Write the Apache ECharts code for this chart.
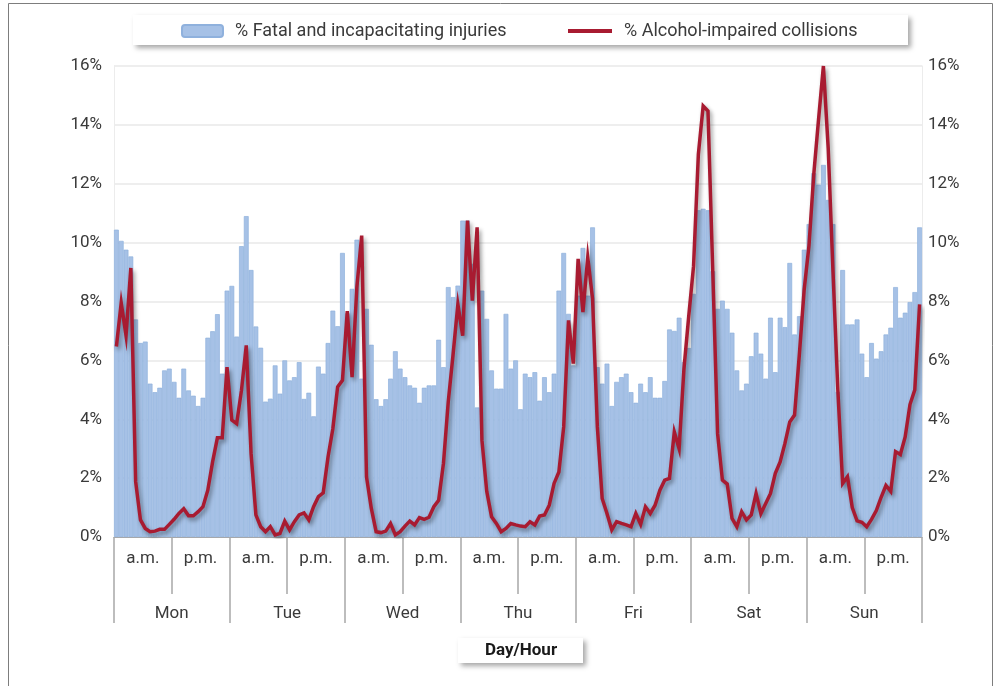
<!DOCTYPE html>
<html>
<head>
<meta charset="utf-8">
<script src="https://cdn.jsdelivr.net/npm/echarts@6/dist/echarts.min.js"></script>
<style>
html,body{margin:0;padding:0;background:#fff;}
#chart{width:1001px;height:686px;}
</style>
</head>
<body>
<div id="chart"></div>
<script>
const days = ['Mon','Tue','Wed','Thu','Fri','Sat','Sun'];
const halves = ['a.m.','p.m.'];
const yTicks = [0,2,4,6,8,10,12,14,16];

const injMon = [10.44,10.06,9.76,9.53,7.39,6.59,6.64,5.21,4.92,5.07,5.66,5.72,5.27,4.73,5.72,4.98,4.80,4.45,4.73,6.77,6.99,7.57,5.55,8.37];
const injTue = [8.53,6.81,9.88,10.90,9.07,7.15,6.43,4.60,4.70,5.83,4.87,6.00,5.32,5.43,5.94,4.69,4.90,4.10,5.79,5.55,6.59,7.69,7.16,9.65];
const injWed = [7.60,8.43,10.10,5.38,7.75,6.53,4.68,4.45,4.68,5.38,6.31,5.72,5.43,5.15,5.07,4.56,5.07,5.15,5.15,6.70,5.77,8.49,8.15,8.54];
const injThu = [10.75,10.75,9.28,4.40,8.37,7.41,5.66,5.04,5.04,7.58,5.72,6.00,4.34,5.55,5.43,5.60,4.63,5.43,4.92,5.55,8.37,9.65,7.58,5.83];
const injFri = [8.20,9.82,8.20,10.52,5.77,5.21,5.89,4.45,5.27,5.43,5.55,4.92,4.56,5.21,4.92,5.43,4.73,4.73,5.30,7.05,7.00,7.45,5.94,6.42];
const injSat = [8.26,11.10,11.15,11.10,9.03,7.75,8.03,7.75,6.94,5.66,4.98,5.21,6.14,6.94,6.23,5.38,7.45,5.60,7.45,7.13,9.31,6.88,7.50,9.76];
const injSun = [10.63,12.36,11.97,12.64,11.45,10.63,4.93,9.07,7.22,7.22,7.39,6.23,5.43,6.59,6.06,6.31,6.88,7.11,8.49,7.45,7.62,7.98,8.32,10.52];

const alcMon = [6.47,7.95,6.85,9.14,1.88,0.58,0.29,0.18,0.20,0.26,0.26,0.43,0.60,0.80,0.96,0.72,0.72,0.86,1.03,1.59,2.55,3.37,3.37,5.77];
const alcTue = [3.97,3.85,4.98,6.51,2.84,0.75,0.35,0.18,0.35,0.07,0.12,0.54,0.24,0.52,0.75,0.82,0.58,1.03,1.37,1.50,2.72,3.68,5.10,5.32];
const alcWed = [7.67,5.43,8.50,10.24,2.04,0.97,0.18,0.15,0.20,0.46,0.07,0.18,0.37,0.54,0.41,0.66,0.60,0.67,1.03,1.25,2.50,4.60,6.20,7.90];
const alcThu = [6.84,10.75,8.03,10.52,3.29,1.55,0.69,0.46,0.18,0.29,0.46,0.41,0.37,0.35,0.52,0.41,0.71,0.75,1.08,1.82,2.21,3.74,7.36,5.89];
const alcFri = [9.45,7.64,9.50,8.10,3.74,1.31,0.80,0.24,0.52,0.46,0.41,0.35,0.80,0.43,1.03,0.80,1.08,1.59,1.93,1.99,3.57,3.00,5.70,7.50];
const alcSat = [9.20,13.00,14.64,14.47,9.00,3.51,1.93,1.80,0.63,0.35,0.86,0.58,0.75,1.48,0.80,1.14,1.48,2.16,2.55,3.18,3.91,4.14,6.20,8.40];
const alcSun = [9.90,12.33,14.20,16.00,13.20,9.00,5.00,1.82,2.05,1.00,0.55,0.50,0.35,0.60,0.90,1.35,1.75,1.55,2.90,2.80,3.40,4.50,5.00,7.90];

const injuries = [].concat(injMon,injTue,injWed,injThu,injFri,injSat,injSun);
const alcohol = [].concat(alcMon,alcTue,alcWed,alcThu,alcFri,alcSat,alcSun);

const hourCats = [];
days.forEach(d => { for (let h = 0; h < 24; h++) hourCats.push(d + ' ' + h); });
const halfCats = [];
days.forEach(d => halves.forEach(h => halfCats.push({value: h})));

const FONT = 'Roboto';
const txt = '#3a3a3a';
const tickCol = '#a8a8a8';
const barName = '% Fatal and incapacitating injuries';
const lineName = '% Alcohol-impaired collisions';

const chart = echarts.init(document.getElementById('chart'), null, {renderer: 'canvas'});
chart.setOption({
  animation: false,
  backgroundColor: '#fff',
  textStyle: {fontFamily: FONT},
  grid: {left: 114, right: 79, top: 66, bottom: 149, containLabel: false},
  graphic: [
    {type: 'rect', z: -1, shape: {x: 8.5, y: 3.5, width: 984, height: 720},
     style: {fill: 'none', stroke: '#7d7d7d', lineWidth: 1}},
    {type: 'rect', z: 0, shape: {x: 133, y: 15, width: 775, height: 30},
     style: {fill: '#fff', shadowBlur: 5, shadowOffsetX: 3, shadowOffsetY: 3, shadowColor: 'rgba(0,0,0,0.35)'}},
    {type: 'rect', z: 0, shape: {x: 458, y: 638, width: 125, height: 25},
     style: {fill: '#fff', shadowBlur: 5, shadowOffsetX: 3, shadowOffsetY: 3, shadowColor: 'rgba(0,0,0,0.35)'}},
    {type: 'text', z: 1, style: {text: 'Day/Hour', x: 521, y: 651, textAlign: 'center', textVerticalAlign: 'middle',
      font: 'bold 17px ' + FONT, fill: '#1a1a1a'}}
  ],
  legend: [
    {data: [barName], left: 181, top: 22, padding: 0, itemWidth: 41, itemHeight: 12,
     textStyle: {fontSize: 18, color: txt, fontFamily: FONT, padding: [0, 0, 0, 7]}, z: 5},
    {data: [{name: lineName, icon: 'rect'}], left: 568, top: 22, padding: 0, itemWidth: 44, itemHeight: 4,
     textStyle: {fontSize: 18, color: txt, fontFamily: FONT, padding: [0, 0, 0, 7]}, z: 5}
  ],
  xAxis: [
    {type: 'category', data: hourCats, boundaryGap: true,
     axisLine: {show: true, lineStyle: {color: tickCol, width: 1}},
     axisTick: {show: false}, axisLabel: {show: false}, splitLine: {show: false}},
    {type: 'category', data: halfCats, position: 'bottom', boundaryGap: true,
     axisLine: {show: false},
     axisTick: {show: true, interval: 0, length: 57, lineStyle: {color: tickCol, width: 1.5}},
     axisLabel: {interval: 0, margin: 13, fontSize: 17, color: txt, fontFamily: FONT}},
    {type: 'category', data: days, position: 'bottom', boundaryGap: true,
     axisLine: {show: false},
     axisTick: {show: true, interval: 0, length: 86, lineStyle: {color: tickCol, width: 1.5}},
     axisLabel: {interval: 0, margin: 68, fontSize: 17, color: txt, fontFamily: FONT}}
  ],
  yAxis: [
    {type: 'value', min: yTicks[0], max: yTicks[yTicks.length - 1], interval: 2, position: 'left',
     axisLine: {show: true, lineStyle: {color: '#ececec'}}, axisTick: {show: false},
     axisLabel: {formatter: '{value}%', margin: 12, fontSize: 17, color: txt, fontFamily: FONT},
     splitLine: {show: true, lineStyle: {color: '#e9e9e9', width: 1.5}}},
    {type: 'value', min: yTicks[0], max: yTicks[yTicks.length - 1], interval: 2, position: 'right',
     axisLine: {show: true, lineStyle: {color: '#ececec'}}, axisTick: {show: false},
     axisLabel: {formatter: '{value}%', margin: 6, fontSize: 17, color: txt, fontFamily: FONT},
     splitLine: {show: false}}
  ],
  series: [
    {name: barName, type: 'bar', xAxisIndex: 0, yAxisIndex: 0,
     data: injuries, barCategoryGap: '0%',
     itemStyle: {color: '#a6c1e6', borderColor: '#8fb1dd', borderWidth: 0.7}},
    {name: lineName, type: 'line', xAxisIndex: 0, yAxisIndex: 0,
     data: alcohol, symbol: 'none', showSymbol: false, z: 4,
     itemStyle: {color: '#a81b31'},
     lineStyle: {color: '#a81b31', width: 3.5, join: 'miter',
       shadowColor: 'rgba(0,0,0,0.4)', shadowBlur: 4, shadowOffsetX: 2, shadowOffsetY: 3}}
  ]
});
</script>
</body>
</html>
